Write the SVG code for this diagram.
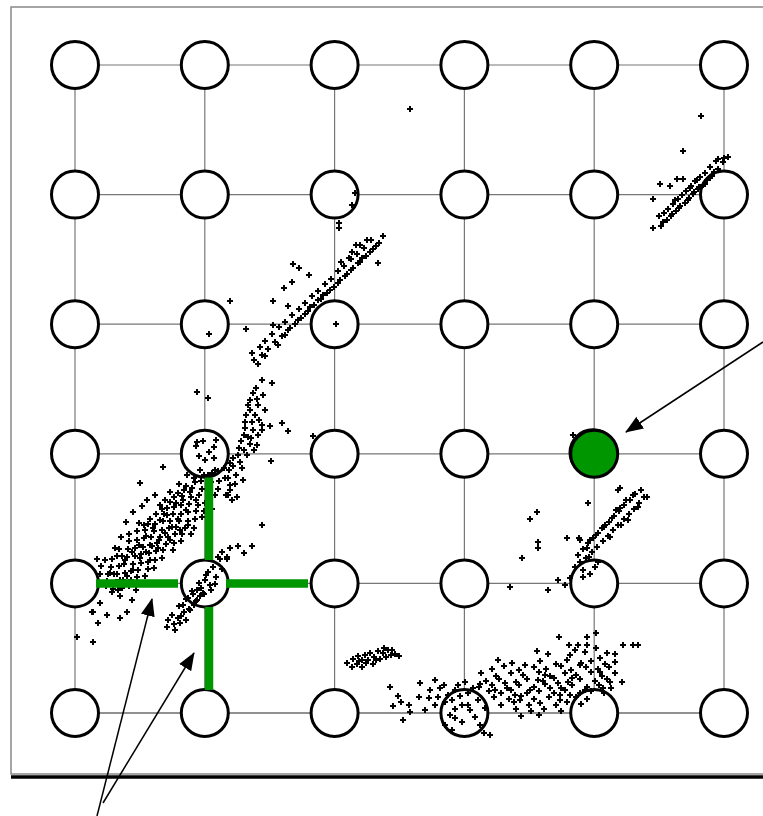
<svg xmlns="http://www.w3.org/2000/svg" width="763" height="816" viewBox="0 0 763 816">
<style>
.grid line{stroke:#777;stroke-width:1.2}
.grid line.dk{stroke:#222;stroke-width:1}
.node circle{fill:#fff;stroke:#000;stroke-width:3}
.pts{fill:none;stroke:none;marker-start:url(#pt);marker-mid:url(#pt);marker-end:url(#pt)}
.green{stroke:#009600;stroke-width:8.5;stroke-linecap:butt}
.arrow{stroke:#000;stroke-width:1.5;fill:none;marker-end:url(#ah)}
</style>
<defs>
<marker id="pt" markerUnits="userSpaceOnUse" markerWidth="8" markerHeight="8" refX="4" refY="4" overflow="visible"><path d="M1,4H7M4,1V7" stroke="#000" stroke-width="2"/></marker>
<marker id="ah" markerUnits="userSpaceOnUse" markerWidth="18" markerHeight="14" refX="17" refY="7" orient="auto"><path d="M0,0L18,7L0,14z" fill="#000"/></marker>
</defs>
<rect x="11" y="7" width="770" height="767" fill="#fff" stroke="#888" stroke-width="1.5"/>
<line x1="11" y1="777" x2="763" y2="777" stroke="#000" stroke-width="3.5"/>
<g id="connectors" class="grid">
<line x1="75" y1="65" x2="724" y2="65"/>
<line x1="75" y1="194.6" x2="724" y2="194.6"/>
<line x1="75" y1="324.2" x2="724" y2="324.2"/>
<line x1="75" y1="453.8" x2="724" y2="453.8"/>
<line x1="75" y1="583.4" x2="724" y2="583.4"/>
<line class="dk" x1="75" y1="713" x2="724" y2="713"/>
<line x1="75" y1="65" x2="75" y2="713"/>
<line x1="204.8" y1="65" x2="204.8" y2="713"/>
<line x1="334.6" y1="65" x2="334.6" y2="713"/>
<line x1="464.4" y1="65" x2="464.4" y2="713"/>
<line x1="594.2" y1="65" x2="594.2" y2="713"/>
<line x1="724" y1="65" x2="724" y2="713"/>
</g>
<g id="n00" class="node"><circle cx="75" cy="65" r="23.5"/></g>
<g id="n01" class="node"><circle cx="204.8" cy="65" r="23.5"/></g>
<g id="n02" class="node"><circle cx="334.6" cy="65" r="23.5"/></g>
<g id="n03" class="node"><circle cx="464.4" cy="65" r="23.5"/></g>
<g id="n04" class="node"><circle cx="594.2" cy="65" r="23.5"/></g>
<g id="n05" class="node"><circle cx="724" cy="65" r="23.5"/></g>
<g id="n10" class="node"><circle cx="75" cy="194.6" r="23.5"/></g>
<g id="n11" class="node"><circle cx="204.8" cy="194.6" r="23.5"/></g>
<g id="n12" class="node"><circle cx="334.6" cy="194.6" r="23.5"/></g>
<g id="n13" class="node"><circle cx="464.4" cy="194.6" r="23.5"/></g>
<g id="n14" class="node"><circle cx="594.2" cy="194.6" r="23.5"/></g>
<g id="n15" class="node"><circle cx="724" cy="194.6" r="23.5"/></g>
<g id="n20" class="node"><circle cx="75" cy="324.2" r="23.5"/></g>
<g id="n21" class="node"><circle cx="204.8" cy="324.2" r="23.5"/></g>
<g id="n22" class="node"><circle cx="334.6" cy="324.2" r="23.5"/></g>
<g id="n23" class="node"><circle cx="464.4" cy="324.2" r="23.5"/></g>
<g id="n24" class="node"><circle cx="594.2" cy="324.2" r="23.5"/></g>
<g id="n25" class="node"><circle cx="724" cy="324.2" r="23.5"/></g>
<g id="n30" class="node"><circle cx="75" cy="453.8" r="23.5"/></g>
<g id="n31" class="node"><circle cx="204.8" cy="453.8" r="23.5"/></g>
<g id="n32" class="node"><circle cx="334.6" cy="453.8" r="23.5"/></g>
<g id="n33" class="node"><circle cx="464.4" cy="453.8" r="23.5"/></g>
<g id="n34" class="node"><circle cx="592.8" cy="452.6" r="23.5" style="fill:none;stroke-width:1.6"/><circle cx="594.2" cy="453.8" r="23.5" style="fill:#009600"/></g>
<g id="n35" class="node"><circle cx="724" cy="453.8" r="23.5"/></g>
<g id="n40" class="node"><circle cx="75" cy="583.4" r="23.5"/></g>
<g id="n41" class="node"><circle cx="204.8" cy="583.4" r="23.5"/></g>
<g id="n42" class="node"><circle cx="334.6" cy="583.4" r="23.5"/></g>
<g id="n43" class="node"><circle cx="464.4" cy="583.4" r="23.5"/></g>
<g id="n44" class="node"><circle cx="594.2" cy="583.4" r="23.5"/></g>
<g id="n45" class="node"><circle cx="724" cy="583.4" r="23.5"/></g>
<g id="n50" class="node"><circle cx="75" cy="713" r="23.5"/></g>
<g id="n51" class="node"><circle cx="204.8" cy="713" r="23.5"/></g>
<g id="n52" class="node"><circle cx="334.6" cy="713" r="23.5"/></g>
<g id="n53" class="node"><circle cx="464.4" cy="713" r="23.5"/></g>
<g id="n54" class="node"><circle cx="594.2" cy="713" r="23.5"/></g>
<g id="n55" class="node"><circle cx="724" cy="713" r="23.5"/></g>
<g id="scatter">
<polyline class="pts" points="653,228 661,226 659,216 667,220 664,213 671,216 668,209 676,211 673,204 680,206 678,199 685,203 682,195 689,198 686,191 693,194 691,186 698,189 695,181 703,185 700,177 707,180 705,173 712,176 710,167 718,169 716,161 724,158 701,116 683,151 660,184 670,186 677,179 683,179 653,199 718,159 728,157 723,162 688,200 694,192 699,187 705,184 710,178 690,188 679,208 672,214 663,222 675,200 697,180 714,172 410,109 355,193 352,205 339,223 339,228"/>
<polyline class="pts" points="254,360 252,353 262,355 260,347 268,349 265,341 275,342 272,334 282,336 279,327 288,330 285,322 295,324 292,315 301,318 299,309 308,311 305,303 314,305 312,296 321,299 318,291 327,293 325,284 334,287 331,279 340,280 338,271 347,274 344,266 353,268 351,259 360,262 357,254 366,256 364,248 373,249 371,240 379,243 383,236 285,335 290,328 298,320 305,314 310,307 318,300 323,295 330,290 338,283 345,276 351,270 358,263 362,258 370,252 376,246 360,245 367,240 352,252 341,262 356,245 349,258 293,264 299,268 309,275 292,282 284,288 273,301 288,306 273,325 230,301 246,329 209,334 378,263 336,324 313,436 258,364 265,356 278,345"/>
<polyline class="pts" points="197,392 208,398 262,380 272,383 253,393 257,399 263,395 258,405 250,410 246,415 255,415 252,422 259,420 245,428 253,430 248,437 241,441 250,444 244,450 238,455 247,455 240,462 233,466 242,468 236,475 228,478 235,484 230,490 226,495 237,497 243,480 254,450 258,435 262,425 250,400 262,430 257,445 232,500 270,426 265,410 282,423 288,431 271,461 262,525 252,546 244,553 227,559 197,442 203,441 216,440 214,447 196,446 205,460 214,458 199,456 209,452 256,388 248,405 244,435 239,448 233,458 229,470 251,438 245,422"/>
<polyline class="pts" points="100,574 107,581 113,589 120,596 101,566 108,574 116,582 122,588 111,567 117,574 123,580 129,586 112,559 119,566 125,573 131,580 117,556 124,564 131,571 137,577 119,549 127,557 133,564 138,570 145,576 128,549 135,556 141,563 148,569 129,541 135,548 141,554 148,562 154,568 137,540 143,547 149,553 155,560 137,531 144,538 150,545 156,551 162,558 145,530 151,537 157,543 163,550 148,524 154,531 160,537 166,544 173,550 155,524 162,530 168,537 174,543 156,514 163,521 169,528 175,534 181,541 164,514 170,521 176,527 182,534 167,508 173,514 179,521 185,528 191,534 174,507 181,514 188,521 194,528 174,497 181,505 188,512 195,519 182,496 189,504 196,511 202,517 184,490 191,497 198,505 204,511 192,488 199,495 205,503 212,509 195,482 202,489 208,496 201,481 208,488 215,495 204,475 211,482 218,489 212,473 219,481 218,471 225,478"/>
<polyline class="pts" points="125,560 132,552 139,545 146,536 153,528 160,520 167,515 176,503 183,500 190,492 140,558 146,552 152,546 159,540 165,533 172,527 178,519 186,510 133,570 127,576 120,580 114,574 106,586 118,590 150,560 158,548 170,540 180,530 188,525 144,525 150,519 162,509 170,502 178,493 186,486 194,478 200,470 122,556 129,534 139,523 170,492 196,500 208,475 215,470 224,468 230,463 187,475 179,484 165,500 160,505 230,485 228,495 93,612 98,623 107,615 120,618 127,612 132,600 97,559 93,642 77,637 112,592 110,573 140,483 163,467 147,500 100,603 92,612 133,512 126,522 142,506 155,495 121,537 115,548 105,560 136,590 142,584"/>
<polyline class="pts" points="167,627 174,624 172,615 181,616 179,606 189,609 186,599 196,601 192,591 203,593 199,583 210,585 206,575 216,577 213,567 222,569 220,559 227,557 183,605 188,598 193,594 197,590 201,588 205,580 178,618 184,612 194,605 200,596 211,590 215,584 208,572 186,620 175,630 190,610 197,600 204,594 230,548 238,546 218,557 222,552 168,620 180,623"/>
<polyline class="pts" points="347,663 353,659 358,656 362,660 357,664 352,667 365,655 370,653 374,657 368,660 378,651 383,653 388,650 391,655 386,657 380,659 395,654 399,656 373,664 362,667 366,663 376,660 384,648 392,650 359,661"/>
<polyline class="pts" points="390,687 401,702 409,705 403,720 410,712 419,697 429,698 420,683 435,680 440,688 435,705 445,702 452,700 460,696 455,690 468,693 473,688 480,684 465,682 478,700 485,708 470,710 455,718 462,722 450,715 475,717 480,725 484,733 490,735 445,725 452,730 444,685 455,709 468,705 393,706 398,696 425,710 430,690 448,695 462,705 458,685 438,697"/>
<polyline class="pts" points="596,633 587,637 559,637 623,645 633,645 638,645 569,645 578,645 587,645 537,651 548,654 498,660 512,663 607,653 615,654 622,682 596,648 585,652 570,655 600,658 575,650 540,661 556,664 567,660 581,663 591,661 605,664 492,669 504,666 519,670 534,667 546,669 561,666 571,670 586,667 598,669 609,667 481,673 496,676 511,673 523,675 539,672 550,676 565,673 576,675 591,672 602,676 615,673 486,681 499,679 516,682 527,679 543,681 554,678 568,682 580,679 595,681 607,679 479,687 492,685 507,688 519,685 534,687 545,684 561,688 572,685 587,687 599,685 611,688 489,691 501,693 511,690 527,693 539,691 554,693 565,690 580,693 591,691 604,693 494,697 509,699 521,696 534,699 549,697 560,700 576,697 587,699 501,705 514,702 529,705 540,703 556,705 567,702 581,704 516,709 531,711 544,709 561,711 521,716 539,715 525,665 545,675 558,683 530,690 515,695 572,678 585,690 600,672 610,682 550,688 560,695 538,680 505,683 520,700 495,690 570,695 580,665 615,662 603,688"/>
<polyline class="pts" points="580,562 578,555 586,558 583,549 592,552 588,543 597,547 593,538 603,541 598,533 608,536 604,527 613,530 609,522 618,525 614,516 624,519 619,511 629,514 624,505 634,509 630,500 639,503 635,494 644,497 641,490 620,508 626,500 612,518 605,525 596,535 590,540 602,528 616,510 633,495 638,507 628,520 621,525 610,537 587,548 618,490 620,488 588,503 567,538 579,538 580,540 583,577 590,574 595,567 598,562 570,578 565,585 558,580 548,590 510,587 522,558 537,512 530,519 538,542 538,548 583,570 575,567 589,557 647,497 573,435"/>
</g>
<g id="bmu-neighbours">
<line class="green" x1="209" y1="477.5" x2="209" y2="560"/>
<line class="green" x1="209" y1="607" x2="209" y2="690"/>
<line class="green" x1="96" y1="583.5" x2="178" y2="583.5"/>
<line class="green" x1="226" y1="583.5" x2="308" y2="583.5"/>
</g>
<g id="arrows">
<line class="arrow" x1="763" y1="342" x2="626" y2="432"/>
<line class="arrow" x1="97" y1="816" x2="152" y2="599"/>
<line class="arrow" x1="103" y1="803" x2="194" y2="653"/>
</g>
</svg>
